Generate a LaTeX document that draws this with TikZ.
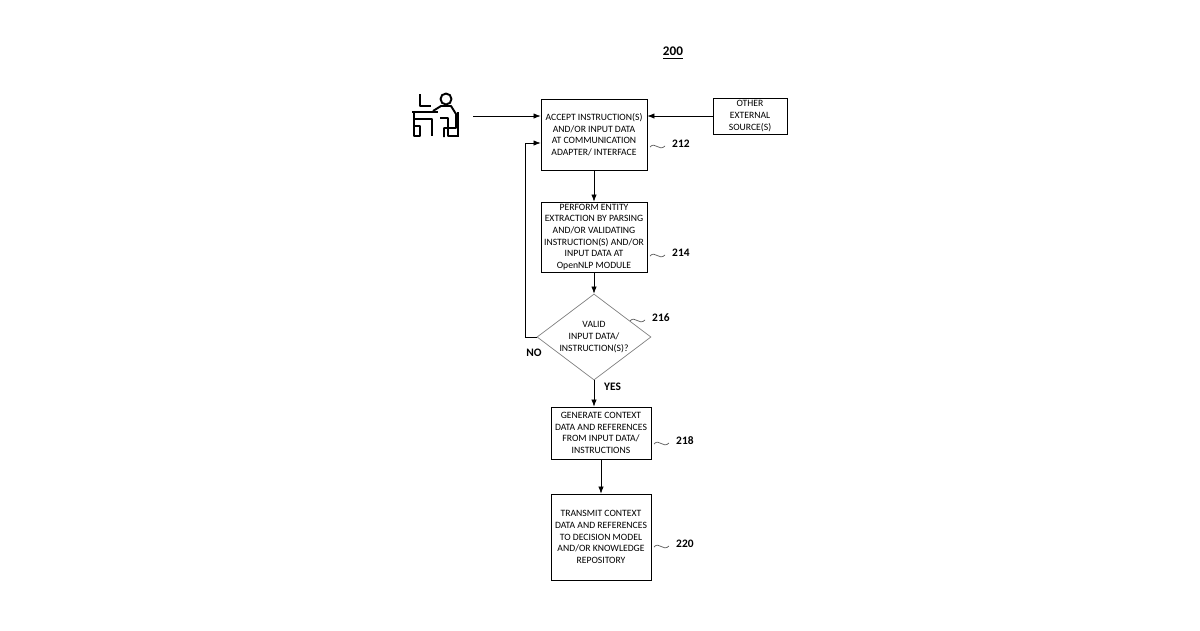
\documentclass[tikz,border=0pt]{standalone}
\usepackage{fontspec}
\setmainfont{Carlito}
\usetikzlibrary{positioning,shapes.geometric,arrows.meta}

\tikzset{
  stage/.style={draw, thin, align=center, font=\fontsize{5.5}{6.6}\selectfont, inner sep=1pt},
  ref/.style={font=\bfseries\fontsize{6.5}{7}\selectfont},
  flow/.style={-{Latex[length=4pt,width=3pt]}, thin},
  squig/.style={thin, gray!70!black}
}

\begin{document}
\begin{tikzpicture}[x=0.02cm, y=-0.02cm]

\useasboundingbox (0,0) rectangle (1200,630);

% boxes
\node[stage, minimum width=106*0.02cm, minimum height=71*0.02cm] (accept) at (594,134.5)
  {ACCEPT INSTRUCTION(S)\\AND/OR INPUT DATA\\AT COMMUNICATION\\ADAPTER/ INTERFACE};
\node[stage, minimum width=74*0.02cm, minimum height=36*0.02cm] (other) at (750,116)
  {OTHER\\EXTERNAL\\SOURCE(S)};
\node[stage, minimum width=106*0.02cm, minimum height=70*0.02cm] (parse) at (594,237)
  {PERFORM ENTITY\\EXTRACTION BY PARSING\\AND/OR VALIDATING\\INSTRUCTION(S) AND/OR\\INPUT DATA AT\\OpenNLP MODULE};
\node[stage, draw=gray, diamond, minimum width=114*0.02cm, minimum height=86*0.02cm, inner sep=-4pt] (valid) at (594,337)
  {VALID\\INPUT DATA/\\INSTRUCTION(S)?};
\node[stage, minimum width=100*0.02cm, minimum height=52*0.02cm] (context) at (601,433)
  {GENERATE CONTEXT\\DATA AND REFERENCES\\FROM INPUT DATA/\\INSTRUCTIONS};
\node[stage, minimum width=100*0.02cm, minimum height=86*0.02cm] (transmit) at (601,537)
  {TRANSMIT CONTEXT\\DATA AND REFERENCES\\TO DECISION MODEL\\AND/OR KNOWLEDGE\\REPOSITORY};

% user icon
\coordinate (user) at (473,116);
\begin{scope}[line width=1.1pt, line join=round]
  \draw (420,94) -- (420,106) -- (431,106);
  \draw (412,112) -- (438,112);
  \draw (414,112) -- (414,136) -- (420,136) -- (420,126) -- (414,126);
  \draw (414,119) -- (432,119) -- (432,136);
  \draw (446,99) circle (5.5);
  \draw (433,111) -- (441,106) -- (451,106) -- (456,114) -- (456,128) -- (444,128) -- (444,137);
  \draw (440,118) -- (448,118) -- (448,136) -- (458,136);
  \draw (458,112) -- (458,137);
\end{scope}

% connectors
\draw[flow] (user) -- (accept.west |- user);
\draw[flow] (other) -- (accept.east |- other);
\draw[flow] (accept) -- (parse);
\draw[flow] (parse) -- (valid);
\draw[flow] (valid.south) -- (valid.south |- context.north);
\draw[flow] (context) -- (transmit);
\draw[flow] (valid.west) -- ++(-11,0) |- ([yshift=-0.17cm]accept.west);
\node[ref, anchor=north] at (534,343) {NO};
\node[ref, anchor=west] at (598,387) {YES};

% reference numerals
\node[ref, font=\bfseries\fontsize{7.5}{8}\selectfont] (fig) at (673,53) {\underline{200}};
\foreach \n/\x/\y in {212/650/147, 214/650/256, 216/630/321, 218/654/444, 220/654/547} {
  \draw[squig] (\x,\y) .. controls (\x+5,\y-6) and (\x+9,\y+5) .. (\x+15,\y-1);
  \node[ref, anchor=west] at (\x+16,\y-3) {\n};
}

\end{tikzpicture}
\end{document}
